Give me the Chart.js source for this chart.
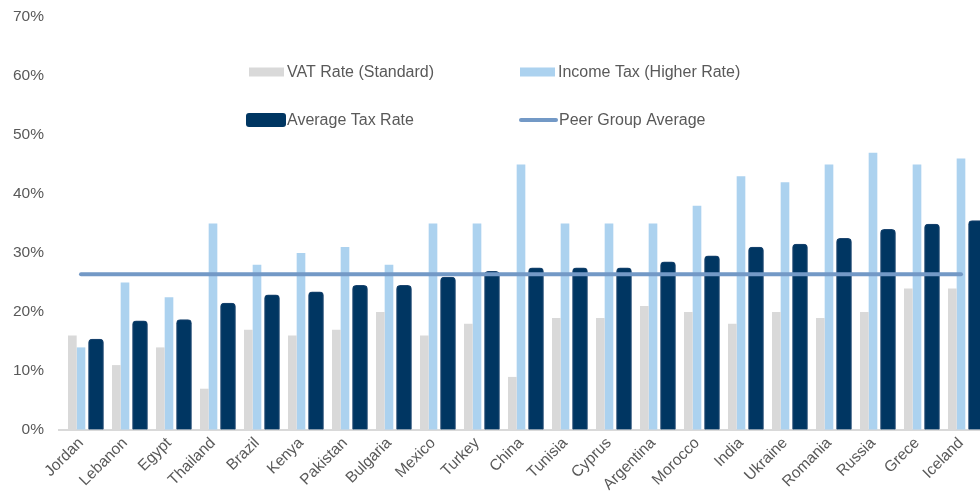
<!DOCTYPE html>
<html>
<head>
<meta charset="utf-8">
<title>Tax rates by country</title>
<script src="https://cdn.jsdelivr.net/npm/chart.js@4.4.1/dist/chart.umd.min.js"></script>
<style>
  html, body { margin: 0; padding: 0; background: #fff; }
  #wrap { width: 980px; height: 497px; position: relative; }
</style>
</head>
<body>
<div id="wrap"><canvas id="taxChart"></canvas></div>
<script>
// Rates in percent
var countries = ['Jordan', 'Lebanon', 'Egypt', 'Thailand', 'Brazil', 'Kenya', 'Pakistan',
  'Bulgaria', 'Mexico', 'Turkey', 'China', 'Tunisia', 'Cyprus', 'Argentina', 'Morocco',
  'India', 'Ukraine', 'Romania', 'Russia', 'Grece', 'Iceland'];
var vatRate = [16, 11, 14, 7, 17, 16, 17, 20, 16, 18, 9, 19, 19, 21, 20, 18, 20, 19, 20, 24, 24];
var incomeTax = [14, 25, 22.5, 35, 28, 30, 31, 28, 35, 35, 45, 35, 35, 35, 38, 43, 42, 45, 47, 45, 46];
var averageTax = [15.4, 18.5, 18.7, 21.5, 22.9, 23.4, 24.5, 24.5, 25.9, 26.9, 27.5, 27.5, 27.5,
  28.5, 29.5, 31.0, 31.5, 32.5, 34.0, 34.9, 35.5];
var peerAverage = [26.4, 26.4, 26.4, 26.4, 26.4, 26.4, 26.4, 26.4, 26.4, 26.4, 26.4,
  26.4, 26.4, 26.4, 26.4, 26.4, 26.4, 26.4, 26.4, 26.4, 26.4];
var yMin = 0, yMax = 70, yStep = 10;

var textColor = '#595959';
var font = "'Liberation Sans', Arial, sans-serif";

// let the category axis run a little past the canvas edge, so the last bar gets cut off
var widenX = {
  id: 'widenX',
  afterLayout: function(chart) {
    var x = chart.scales.x;
    x.right = x.left + 924;
    x.width = 924;
    x.configure();
  }
};

// the average bars sit over the income tax bars, but under the peer line
var navyOnTop = {
  id: 'navyOnTop',
  beforeDatasetDraw: function(chart, args) {
    if (args.index === 3) return false;
  },
  afterDatasetDraw: function(chart, args) {
    if (args.index === 1) {
      chart.getDatasetMeta(3).controller.draw();
    }
  }
};

// two-by-two legend inside the plot
var legendGrid = {
  id: 'legendGrid',
  afterDraw: function(chart) {
    var ctx = chart.ctx;
    var ds = chart.data.datasets;
    var items = [
      { d: ds[1], x: 249, y: 72, kind: 'box' },
      { d: ds[2], x: 520, y: 72, kind: 'box' },
      { d: ds[3], x: 246, y: 120, kind: 'bar' },
      { d: ds[0], x: 520, y: 120, kind: 'line' }
    ];
    ctx.save();
    ctx.font = '16px ' + font;
    ctx.textBaseline = 'middle';
    ctx.fillStyle = textColor;
    items.forEach(function(it) {
      var tx;
      if (it.kind === 'box') {
        ctx.fillStyle = it.d.backgroundColor;
        ctx.fillRect(it.x, it.y - 4.5, 35, 9);
        tx = it.x + 38;
      } else if (it.kind === 'bar') {
        ctx.fillStyle = it.d.backgroundColor;
        ctx.beginPath();
        ctx.roundRect(it.x, it.y - 7, 40, 14, 3);
        ctx.fill();
        tx = it.x + 41;
      } else {
        ctx.strokeStyle = it.d.borderColor;
        ctx.lineWidth = 4;
        ctx.lineCap = 'round';
        ctx.beginPath();
        ctx.moveTo(it.x + 1, it.y);
        ctx.lineTo(it.x + 36, it.y);
        ctx.stroke();
        tx = it.x + 39;
      }
      ctx.fillStyle = textColor;
      ctx.fillText(it.d.label, tx, it.y + 1);
    });
    ctx.restore();
  }
};

var ctx = document.getElementById('taxChart').getContext('2d');
var chart = new Chart(ctx, {
  type: 'bar',
  data: {
    labels: countries,
    datasets: [{
      type: 'line',
      label: 'Peer Group Average',
      data: peerAverage,
      borderColor: '#7399c6',
      backgroundColor: '#7399c6',
      borderWidth: 4,
      borderCapStyle: 'round',
      pointRadius: 0,
      fill: false
    }, {
      label: 'VAT Rate (Standard)',
      data: vatRate,
      backgroundColor: '#d9d9d9',
      barPercentage: 1,
      categoryPercentage: 0.59
    }, {
      label: 'Income Tax (Higher Rate)',
      data: incomeTax,
      backgroundColor: '#acd2ef',
      barPercentage: 1,
      categoryPercentage: 0.59
    }, {
      label: 'Average Tax Rate',
      data: averageTax,
      backgroundColor: '#003662',
      borderColor: '#1d4670',
      borderWidth: 1,
      borderSkipped: 'bottom',
      borderRadius: { topLeft: 4, topRight: 4 },
      barThickness: 15,
      categoryPercentage: 0.59
    }]
  },
  options: {
    responsive: true,
    maintainAspectRatio: false,
    animation: false,
    layout: { padding: { top: 17, right: 0, bottom: 0, left: 0 } },
    plugins: {
      legend: { display: false },
      tooltip: { enabled: false }
    },
    scales: {
      x: {
        grid: { display: false, drawTicks: false },
        border: { display: true, color: '#d9d9d9', width: 2 },
        ticks: {
          color: textColor,
          font: { family: font, size: 15.5 },
          minRotation: 45,
          maxRotation: 45,
          autoSkip: false,
          padding: 4
        },
        afterFit: function(scale) { scale.height = 67; }
      },
      y: {
        min: yMin,
        max: yMax,
        grid: {
          display: true,
          drawOnChartArea: false,
          drawTicks: true,
          tickLength: 12,
          color: 'rgba(0,0,0,0)',
          tickColor: 'rgba(0,0,0,0)'
        },
        border: { display: false },
        ticks: {
          stepSize: yStep,
          color: textColor,
          font: { family: font, size: 15.5 },
          padding: 3,
          callback: function(v) { return v + '%'; }
        },
        afterFit: function(scale) { scale.width = 59; }
      }
    }
  },
  plugins: [widenX, navyOnTop, legendGrid]
});
</script>
</body>
</html>
